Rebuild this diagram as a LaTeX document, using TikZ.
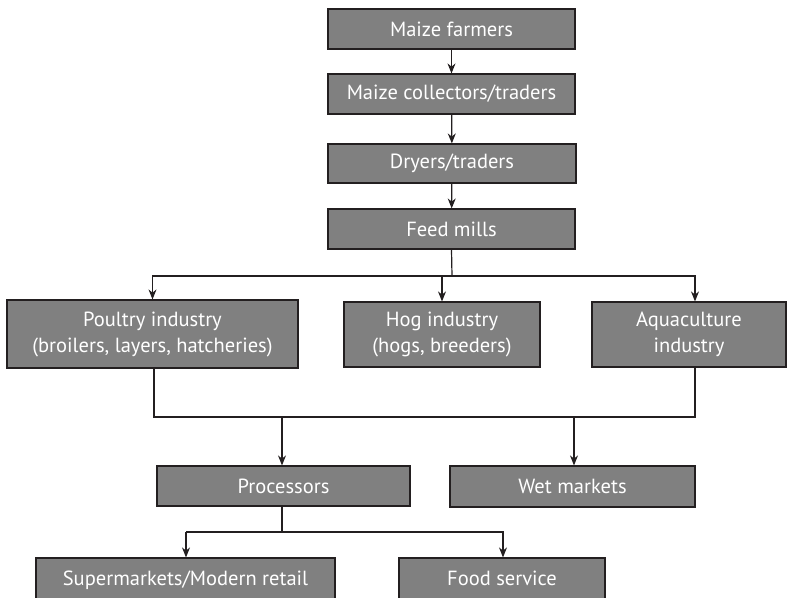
\documentclass[tikz,border=0pt]{standalone}
\usepackage{fontspec}
\setmainfont{PT Sans}
\usetikzlibrary{arrows.meta,calc}
\definecolor{boxfill}{RGB}{128,128,128}
\definecolor{boxline}{RGB}{35,31,32}
\begin{document}
\begin{tikzpicture}[x=1pt,y=-1pt,
  box/.style={draw=boxline,line width=1.2pt,fill=boxfill,text=white,inner sep=0pt,
    font=\fontsize{20.5}{26}\selectfont,align=center},
  conn/.style={draw=boxline,line width=1.2pt},
  arr/.style={conn,-{Stealth[length=10pt,width=8pt]}}]
\useasboundingbox (0,0) rectangle (787,597);
\node[box,minimum width=247pt,minimum height=40pt] (farm) at (451.5,29) {Maize farmers};
\node[box,minimum width=247pt,minimum height=40pt] (coll) at (451.5,94) {Maize collectors/traders};
\node[box,minimum width=248pt,minimum height=39pt] (dry) at (452,163.5) {Dryers/traders};
\node[box,minimum width=247pt,minimum height=40pt] (feed) at (451.5,229) {Feed mills};
\node[box,minimum width=291pt,minimum height=68pt] (poul) at (152.5,334) {Poultry industry\\(broilers, layers, hatcheries)};
\node[box,minimum width=196pt,minimum height=65pt] (hog) at (442,334.5) {Hog industry\\(hogs, breeders)};
\node[box,minimum width=194pt,minimum height=65pt] (aqua) at (689,334.5) {Aquaculture\\industry};
\node[box,minimum width=253pt,minimum height=40pt] (proc) at (283.5,486) {Processors};
\node[box,minimum width=245pt,minimum height=41pt] (wet) at (572.5,486.5) {Wet markets};
\node[box,minimum width=299pt,minimum height=52pt] (super) at (185.5,584) {\raisebox{12pt}{Supermarkets/Modern retail}};
\node[box,minimum width=206pt,minimum height=52pt] (food) at (502,584) {\raisebox{12pt}{Food service}};
\draw[arr] (farm) -- (coll);
\draw[arr] (coll) -- (dry);
\draw[arr] (dry) -- (feed);
\coordinate (j1) at (452,276);
\coordinate (aqt) at (695,276);
\draw[conn] (feed.south) -- (j1);
\draw[arr] (j1) -| (poul.north);
\draw[arr] (j1) -| (hog.north);
\draw[arr] (j1) -- (aqt) -- (aqt |- aqua.north);
\coordinate (j2) at (154,417);
\coordinate (j3) at (695,417);
\draw[conn] (poul.south -| j2) -- (j2) -- (j3) -- (j3 |- aqua.south);
\coordinate (pj) at (282,417);
\coordinate (wj) at (574,417);
\draw[arr] (pj) -- (pj |- proc.north);
\draw[arr] (wj) -- (wj |- wet.north);
\coordinate (j4) at (282,532);
\coordinate (sj) at (186,532);
\coordinate (fj) at (503,532);
\draw[conn] (proc.south -| j4) -- (j4);
\draw[arr] (sj) -- (fj) -- (fj |- food.north);
\draw[arr] (sj) -- (sj |- super.north);
\end{tikzpicture}
\end{document}
